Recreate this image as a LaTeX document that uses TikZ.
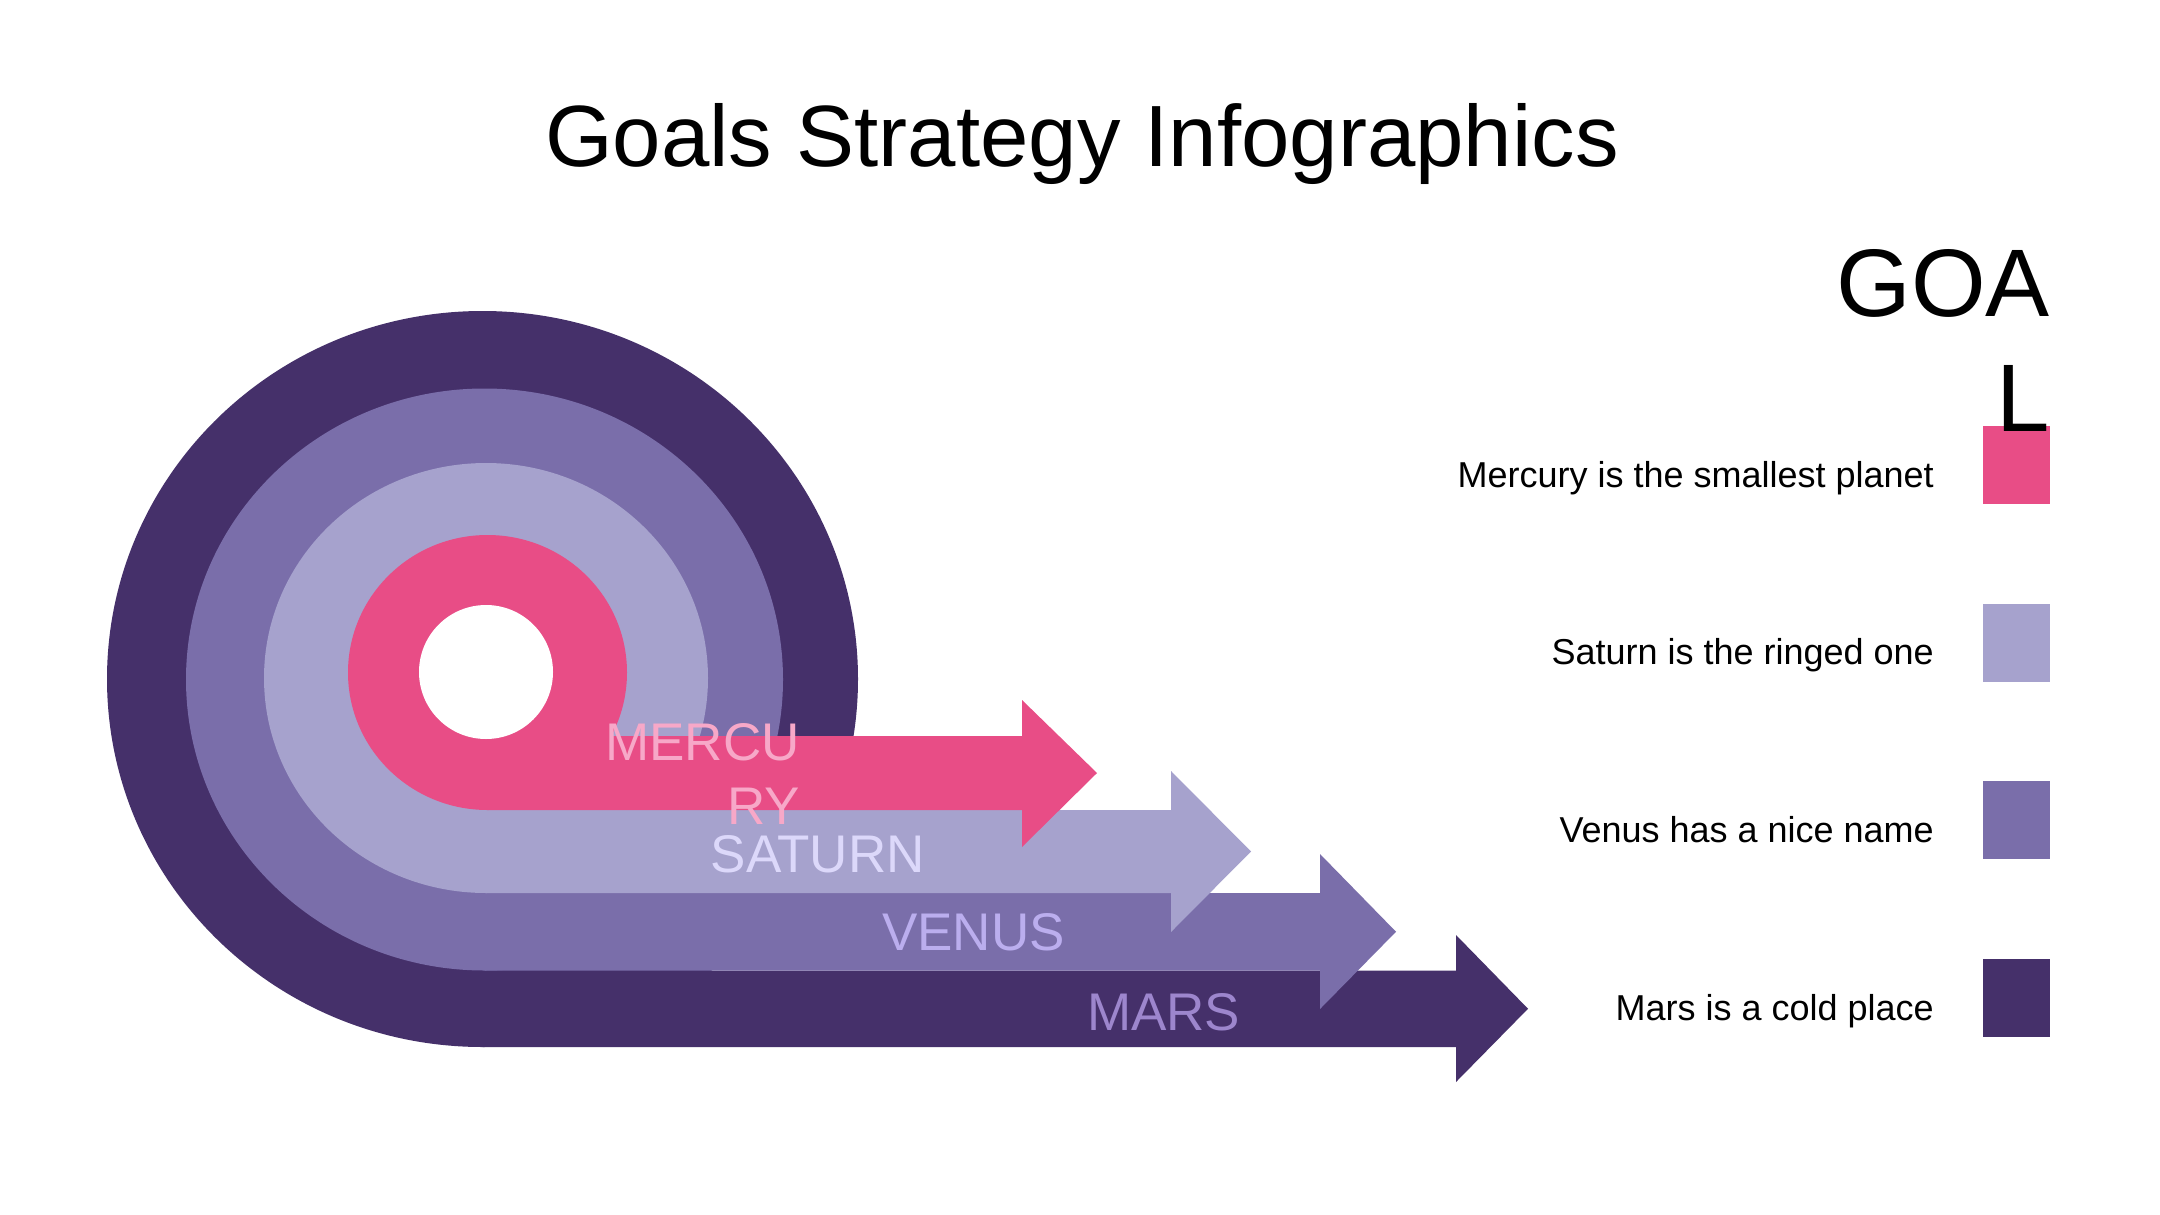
\documentclass[tikz,border=0pt]{standalone}
\usepackage{fontspec}
\setmainfont{Liberation Sans}
\definecolor{marsC}{HTML}{45306A}
\definecolor{venusC}{HTML}{7A6EAA}
\definecolor{saturnC}{HTML}{A6A2CD}
\definecolor{mercC}{HTML}{E84D86}
\definecolor{mercT}{HTML}{F7A8C8}
\definecolor{satT}{HTML}{DCD8FA}
\definecolor{venT}{HTML}{BBAEEE}
\definecolor{marsT}{HTML}{9D86CD}
\begin{document}
\begin{tikzpicture}[x=1pt,y=-1pt,
  lbl/.style={inner sep=0pt,font=\fontsize{53}{64}\selectfont},
  legtxt/.style={inner sep=0pt,anchor=base east,font=\fontsize{36}{43}\selectfont},
  legbox/.style={inner sep=0pt,anchor=north west,minimum width=67pt,minimum height=78pt}]
\useasboundingbox (0,0) rectangle (2160,1215);
\fill[white] (0,0) rectangle (2160,1215);

% Mars
\fill[marsC] (482.5,679) ellipse [x radius=375.5, y radius=368];
\fill[marsC] (482.5,970.5) -- (1456,970.5) -- (1456,935) -- (1528,1008.75) -- (1456,1082) -- (1456,1047) -- (482.5,1047) -- cycle;
% Venus
\fill[venusC] (484.5,679.5) ellipse [x radius=298.5, y radius=291];
\fill[venusC] (484.5,893) -- (1320,893) -- (1320,854) -- (1396,931.75) -- (1320,1009) -- (1320,970.5) -- (484.5,970.5) -- cycle;
% Saturn
\fill[saturnC] (486,678) ellipse [x radius=222, y radius=215];
\fill[saturnC] (486,810) -- (1171,810) -- (1171,771) -- (1251,851.5) -- (1171,932) -- (1171,893) -- (486,893) -- cycle;
% Mercury
\fill[mercC] (487.5,672.5) ellipse [x radius=139.5, y radius=137.5];
\fill[mercC] (487.5,736) -- (1022,736) -- (1022,700) -- (1097,773) -- (1022,847) -- (1022,810) -- (487.5,810) -- cycle;
% hole
\fill[white] (486,672) circle [radius=67];

% labels on the arrows
\node[lbl,anchor=north east,align=right,text=mercT] (lmerc) at (800,723.4) {MERCU\\RY};
\node[lbl,anchor=base west,text=satT] (lsat) at (710.5,872) {SATURN};
\node[lbl,anchor=base west,text=venT] (lven) at (882,950) {VENUS};
\node[lbl,anchor=base west,text=marsT] (lmars) at (1087,1030) {MARS};

% title
\node[inner sep=0pt,anchor=base,font=\fontsize{87}{104}\selectfont] (title) at (1082,166) {Goals Strategy Infographics};

% legend
\node[legbox,fill=mercC] (bmerc) at (1983,426) {};
\node[legbox,fill=saturnC] (bsat) at (1983,604) {};
\node[legbox,fill=venusC] (bven) at (1983,781) {};
\node[legbox,fill=marsC] (bmars) at (1983,959) {};
\node[legtxt] (tmerc) at (1934,487) {Mercury is the smallest planet};
\node[legtxt] (tsat) at (1934,664.7) {Saturn is the ringed one};
\node[legtxt] (tven) at (1934,842.4) {Venus has a nice name};
\node[legtxt] (tmars) at (1934,1020) {Mars is a cold place};

\node[inner sep=0pt,anchor=north east,align=right,font=\fontsize{96}{115}\selectfont] (goal) at (2050,249) {GOA\\L};
\end{tikzpicture}
\end{document}
